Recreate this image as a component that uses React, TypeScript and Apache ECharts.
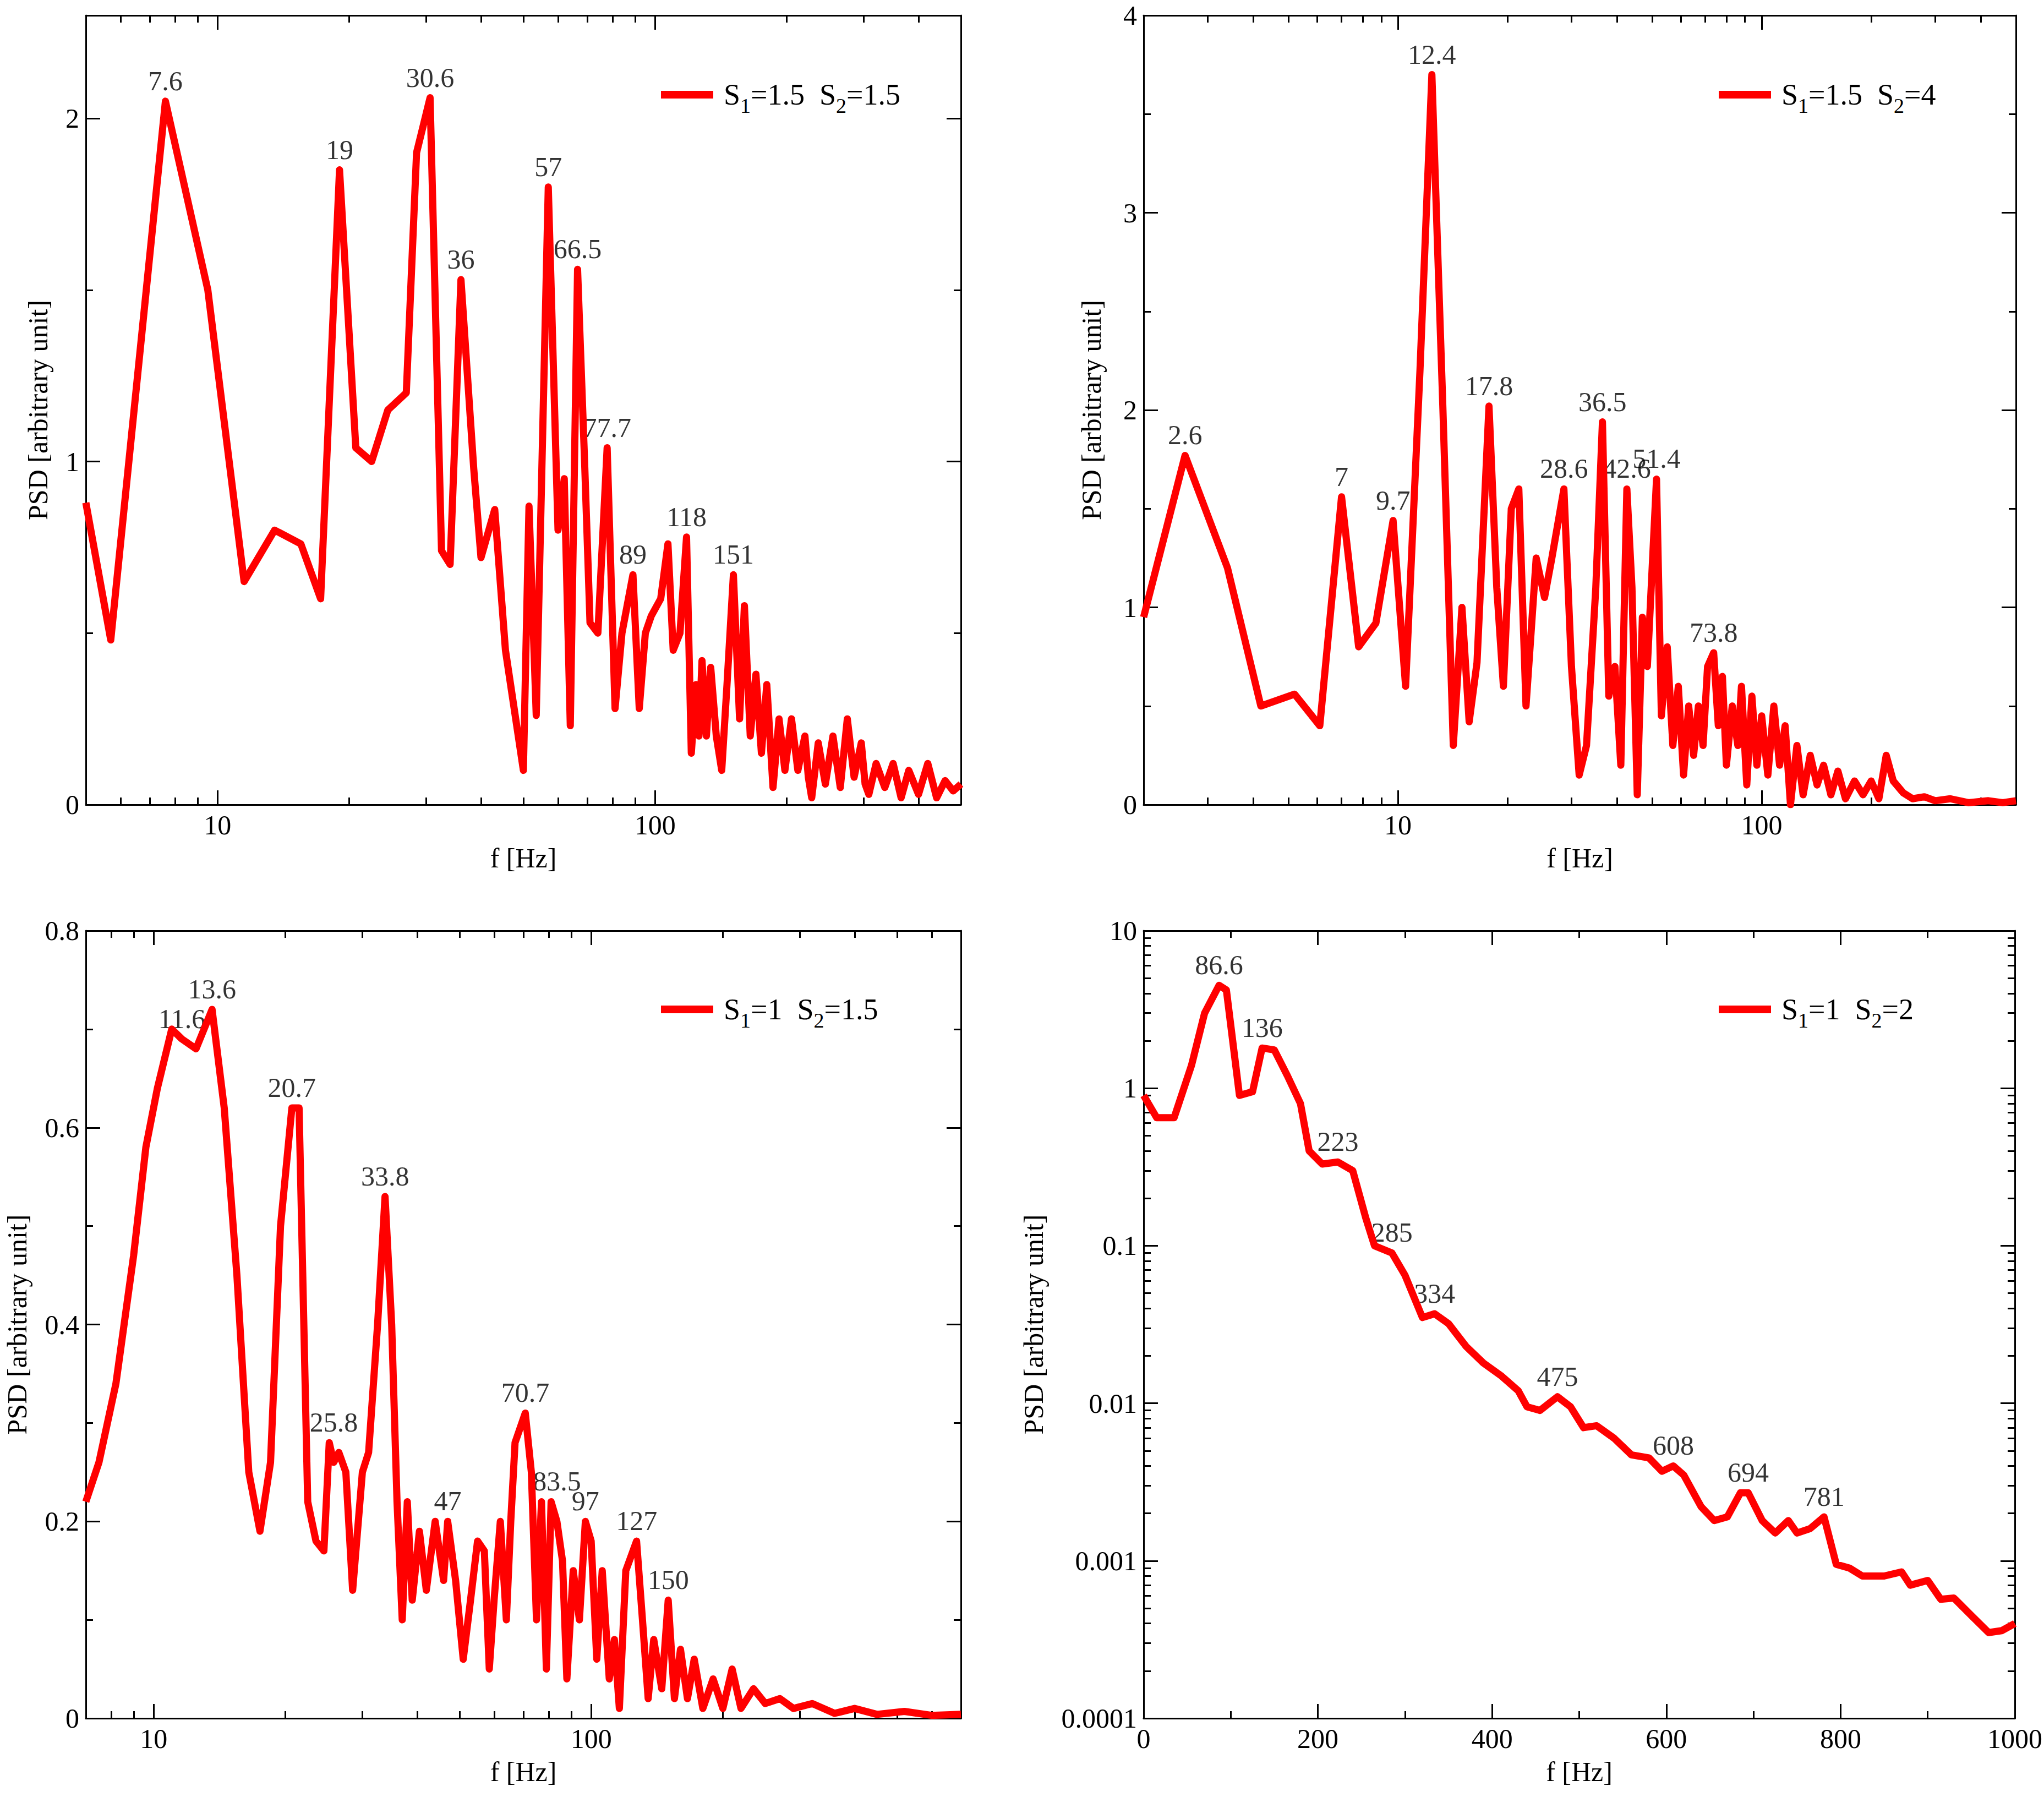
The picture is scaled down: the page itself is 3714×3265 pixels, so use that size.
import { useEffect, useRef } from 'react'
import * as echarts from 'echarts'

// [f (Hz), PSD]
const psd1: number[][] = [
  [5, 0.88], [5.7, 0.48], [7.6, 2.05], [9.5, 1.5], [11.5, 0.65], [13.5, 0.8], [15.5, 0.76], [17.2, 0.6],
  [19, 1.85], [20.7, 1.04], [22.5, 1.0], [24.5, 1.15], [27, 1.2], [28.5, 1.9], [30.6, 2.06], [32.5, 0.74],
  [34, 0.7], [36, 1.53], [38.5, 0.98], [40, 0.72], [43, 0.86], [45.5, 0.45], [50, 0.1], [51.5, 0.87],
  [53.5, 0.26], [57, 1.8], [60, 0.8], [62, 0.95], [64, 0.23], [66.5, 1.56], [69, 1.0], [71, 0.53],
  [74, 0.5], [77.7, 1.04], [81, 0.28], [84, 0.5], [89, 0.67], [92, 0.28], [95, 0.5], [98, 0.55],
  [103, 0.6], [107, 0.76], [110, 0.45], [114, 0.5], [118, 0.78], [121, 0.15], [124, 0.35], [126, 0.2],
  [128, 0.42], [131, 0.2], [134, 0.4], [138, 0.2], [142, 0.1], [146, 0.35], [151, 0.67], [156, 0.25], [160, 0.58],
  [165, 0.2], [170, 0.38], [175, 0.15], [180, 0.35], [186, 0.05], [192, 0.25], [198, 0.1], [205, 0.25],
  [212, 0.1], [220, 0.2], [224, 0.08], [228, 0.02], [236, 0.18], [245, 0.06], [255, 0.2], [265, 0.05], [275, 0.25],
  [285, 0.08], [296, 0.18], [302, 0.06], [308, 0.03], [320, 0.12], [335, 0.05], [350, 0.12], [365, 0.02], [380, 0.1],
  [400, 0.03], [420, 0.12], [440, 0.02], [460, 0.07], [480, 0.04], [500, 0.06],
]
const peaks1: (number | string)[][] = [
  [7.6, 2.05, '7.6'], [19, 1.85, '19'], [30.6, 2.06, '30.6'], [36, 1.53, '36'], [57, 1.8, '57'],
  [66.5, 1.56, '66.5'], [77.7, 1.04, '77.7'], [89, 0.67, '89'], [118, 0.78, '118'], [151, 0.67, '151'],
]

const psd2: number[][] = [
  [2, 0.95], [2.6, 1.77], [3.4, 1.2], [4.2, 0.5], [5.2, 0.56], [6.1, 0.4], [7, 1.56], [7.8, 0.8],
  [8.7, 0.92], [9.7, 1.44], [10.5, 0.6], [11.5, 2.2], [12.4, 3.7], [13.3, 2.0], [14.2, 0.3], [15, 1.0],
  [15.7, 0.42], [16.5, 0.72], [17.8, 2.02], [18.7, 1.1], [19.5, 0.6], [20.5, 1.5], [21.5, 1.6], [22.5, 0.5],
  [24, 1.25], [25.3, 1.05], [26.5, 1.25], [28.6, 1.6], [30, 0.7], [31.5, 0.15], [33, 0.3], [35, 1.1],
  [36.5, 1.94], [38, 0.55], [39.5, 0.7], [41, 0.2], [42.6, 1.6], [44, 1.1], [45.5, 0.05], [47, 0.95],
  [48.5, 0.7], [51.4, 1.65], [53, 0.45], [55, 0.8], [57, 0.3], [59, 0.6], [61, 0.15], [63, 0.5],
  [65, 0.25], [67, 0.5], [69, 0.3], [71, 0.7], [73.8, 0.77], [76, 0.4], [78, 0.65], [80, 0.2],
  [83, 0.5], [86, 0.3], [88, 0.6], [91, 0.1], [94, 0.55], [97, 0.2], [100, 0.45], [104, 0.15],
  [108, 0.5], [112, 0.2], [116, 0.4], [120, 0.0], [125, 0.3], [130, 0.05], [136, 0.25], [142, 0.1],
  [148, 0.2], [155, 0.05], [162, 0.17], [170, 0.03], [180, 0.12], [190, 0.05], [200, 0.12], [210, 0.03],
  [220, 0.25], [230, 0.12], [245, 0.06], [260, 0.03], [280, 0.04], [300, 0.02], [330, 0.03], [370, 0.01],
  [420, 0.02], [460, 0.01], [500, 0.02],
]
const peaks2: (number | string)[][] = [
  [2.6, 1.77, '2.6'], [7, 1.56, '7'], [9.7, 1.44, '9.7'], [12.4, 3.7, '12.4'], [17.8, 2.02, '17.8'],
  [28.6, 1.6, '28.6'], [36.5, 1.94, '36.5'], [42.6, 1.6, '42.6'], [51.4, 1.65, '51.4'], [73.8, 0.77, '73.8'],
]

const psd3: number[][] = [
  [7, 0.22], [7.5, 0.26], [8.2, 0.34], [9, 0.47], [9.6, 0.58], [10.2, 0.64], [11, 0.7], [11.6, 0.69],
  [12.5, 0.68], [13.6, 0.72], [14.5, 0.62], [15.5, 0.45], [16.5, 0.25], [17.5, 0.19], [18.5, 0.26], [19.5, 0.5],
  [20.7, 0.62], [21.5, 0.62], [22.5, 0.22], [23.5, 0.18], [24.5, 0.17], [25.2, 0.28], [25.8, 0.26], [26.5, 0.27],
  [27.5, 0.25], [28.5, 0.13], [30, 0.25], [31, 0.27], [32.5, 0.4], [33.8, 0.53], [35, 0.4], [36, 0.22],
  [37, 0.1], [38, 0.22], [39, 0.12], [40.5, 0.19], [42, 0.13], [44, 0.2], [46, 0.14], [47, 0.2],
  [49, 0.14], [51, 0.06], [53, 0.12], [55, 0.18], [57, 0.17], [58.5, 0.05], [60, 0.12], [62, 0.2],
  [64, 0.1], [65.5, 0.2], [67, 0.28], [70.7, 0.31], [73, 0.25], [75, 0.1], [77, 0.22], [79, 0.05],
  [81, 0.22], [83.5, 0.2], [86, 0.16], [88, 0.04], [91, 0.15], [94, 0.1], [97, 0.2], [100, 0.18],
  [103, 0.06], [106, 0.15], [110, 0.04], [113, 0.08], [116, 0.01], [120, 0.15], [127, 0.18], [131, 0.1],
  [135, 0.02], [139, 0.08], [145, 0.03], [150, 0.12], [155, 0.02], [160, 0.07], [166, 0.02], [172, 0.06],
  [180, 0.01], [190, 0.04], [200, 0.01], [210, 0.05], [220, 0.01], [235, 0.03], [250, 0.015], [270, 0.02],
  [290, 0.01], [320, 0.015], [360, 0.005], [400, 0.01], [450, 0.004], [520, 0.007], [600, 0.003], [700, 0.004],
]
const peaks3: (number | string)[][] = [
  [11.6, 0.69, '11.6'], [13.6, 0.72, '13.6'], [20.7, 0.62, '20.7'], [25.8, 0.28, '25.8'], [33.8, 0.53, '33.8'],
  [47, 0.2, '47'], [70.7, 0.31, '70.7'], [83.5, 0.22, '83.5'], [97, 0.2, '97'], [127, 0.18, '127'], [150, 0.12, '150'],
]

const psd4: number[][] = [
  [0, 0.9], [15, 0.65], [35, 0.65], [55, 1.4], [70, 3], [86.6, 4.5], [95, 4.2], [110, 0.9],
  [125, 0.95], [136, 1.8], [150, 1.75], [165, 1.2], [180, 0.8], [190, 0.4], [205, 0.33], [223, 0.34],
  [240, 0.3], [255, 0.15], [265, 0.1], [285, 0.09], [300, 0.065], [320, 0.035], [334, 0.037], [350, 0.032],
  [370, 0.023], [390, 0.018], [410, 0.015], [430, 0.012], [440, 0.0095], [455, 0.009], [475, 0.011], [490, 0.0095],
  [505, 0.007], [520, 0.0072], [540, 0.006], [560, 0.0047], [580, 0.0045], [595, 0.0037], [608, 0.004], [620, 0.0035],
  [640, 0.0022], [655, 0.0018], [670, 0.0019], [685, 0.0027], [694, 0.0027], [710, 0.0018], [725, 0.0015], [740, 0.0018],
  [750, 0.0015], [765, 0.0016], [781, 0.0019], [795, 0.00095], [810, 0.0009], [825, 0.0008], [850, 0.0008], [870, 0.00085],
  [880, 0.0007], [900, 0.00075], [915, 0.00057], [930, 0.00058], [950, 0.00045], [970, 0.00035], [985, 0.00036], [1000, 0.0004],
]
const peaks4: (number | string)[][] = [
  [86.6, 4.5, '86.6'], [136, 1.8, '136'], [223, 0.34, '223'], [285, 0.09, '285'], [334, 0.037, '334'],
  [475, 0.011, '475'], [608, 0.004, '608'], [694, 0.0027, '694'], [781, 0.0019, '781'],
]

const legends = ['S{s|1}=1.5  S{s|2}=1.5', 'S{s|1}=1.5  S{s|2}=4', 'S{s|1}=1  S{s|2}=1.5', 'S{s|1}=1  S{s|2}=2']

const FONT = "'Liberation Serif', 'Times New Roman', serif"
const FS = 50
const L10 = Math.log10

const logMinors = (lo: number, hi: number) => {
  const out: number[] = []
  for (let e = -5; e < 4; e++) for (let k = 2; k <= 9; k++) {
    const v = k * 10 ** e
    if (v > lo && v < hi) out.push(L10(v))
  }
  return out
}

interface Panel {
  left: number; top: number; width: number; height: number
  xLog: boolean; xMin: number; xMax: number; xMajor: number[]; xMinor: number[]
  yLog: boolean; yMin: number; yMax: number; yMajor: number[]; yMinor: number[]
  yLabel: (v: number) => string; yGap: number
  data: number[][]; peaks: (number | string)[][]; legend: number[]
}

const panels: Panel[] = [
  { left: 156, top: 28, width: 1590, height: 1434, xLog: true, xMin: L10(5), xMax: L10(500),
    xMajor: [1, 2], xMinor: logMinors(5, 500), yLog: false, yMin: 0, yMax: 2.3, yMajor: [0, 1, 2],
    yMinor: [0.5, 1.5], yLabel: v => String(v), yGap: 62, data: psd1, peaks: peaks1, legend: [1196, 140] },
  { left: 2078, top: 28, width: 1585, height: 1434, xLog: true, xMin: L10(2), xMax: L10(500),
    xMajor: [1, 2], xMinor: logMinors(2, 500), yLog: false, yMin: 0, yMax: 4, yMajor: [0, 1, 2, 3, 4],
    yMinor: [0.5, 1.5, 2.5, 3.5], yLabel: v => String(v), yGap: 70, data: psd2, peaks: peaks2, legend: [3118, 140] },
  { left: 156, top: 1691, width: 1590, height: 1431, xLog: true, xMin: L10(7), xMax: L10(700),
    xMajor: [1, 2], xMinor: logMinors(7, 700), yLog: false, yMin: 0, yMax: 0.8, yMajor: [0, 0.2, 0.4, 0.6, 0.8],
    yMinor: [0.1, 0.3, 0.5, 0.7], yLabel: v => (v === 0 ? '0' : v.toFixed(1)), yGap: 100, data: psd3, peaks: peaks3, legend: [1196, 1802] },
  { left: 2078, top: 1691, width: 1585, height: 1431, xLog: false, xMin: 0, xMax: 1000,
    xMajor: [0, 200, 400, 600, 800, 1000], xMinor: [100, 300, 500, 700, 900], yLog: true, yMin: -4, yMax: 1,
    yMajor: [-4, -3, -2, -1, 0, 1], yMinor: logMinors(0.0001, 10),
    yLabel: v => { const n = 10 ** v; return n >= 1 ? String(Math.round(n)) : n.toFixed(-Math.round(v)) },
    yGap: 175, data: psd4, peaks: peaks4, legend: [3118, 1802] },
]

export default function App() {
  const ref = useRef<HTMLDivElement>(null)

  useEffect(() => {
    if (!ref.current) return
    document.body.style.margin = '0'
    const chart = echarts.init(ref.current, null, { renderer: 'svg' })

    const grid: any[] = [], xAxis: any[] = [], yAxis: any[] = [], series: any[] = [], legend: any[] = []
    const line = { lineStyle: { color: '#000', width: 3 } }

    panels.forEach((p, i) => {
      grid.push({ left: p.left, top: p.top, width: p.width, height: p.height })
      const tx = (v: number) => (p.xLog ? L10(v) : v)
      const ty = (v: number) => (p.yLog ? L10(v) : v)
      const xBase = { type: 'value', gridIndex: i, min: p.xMin, max: p.xMax, splitLine: { show: false } }
      const yBase = { type: 'value', gridIndex: i, min: p.yMin, max: p.yMax, splitLine: { show: false } }
      const xi = xAxis.length, yi = yAxis.length
      for (const pos of ['bottom', 'top']) {
        xAxis.push({
          ...xBase, position: pos, axisLine: { show: true, onZero: false, ...line },
          name: pos === 'bottom' ? 'f [Hz]' : '', nameLocation: 'middle', nameGap: 72,
          nameTextStyle: { fontFamily: FONT, fontSize: FS, color: '#000' },
          axisLabel: { show: pos === 'bottom', customValues: p.xMajor, fontFamily: FONT, fontSize: FS, color: '#000', margin: 12,
            formatter: (v: number) => (p.xLog ? String(Math.round(10 ** v)) : String(v)) },
          axisTick: { inside: true, length: 26, customValues: p.xMajor, ...line },
        })
        xAxis.push({
          ...xBase, position: pos, axisLine: { show: false, onZero: false }, axisLabel: { show: false },
          axisTick: { inside: true, length: 13, customValues: p.xMinor, ...line },
        })
      }
      for (const pos of ['left', 'right']) {
        yAxis.push({
          ...yBase, position: pos, axisLine: { show: true, onZero: false, ...line },
          name: pos === 'left' ? 'PSD [arbitrary unit]' : '', nameLocation: 'middle', nameGap: p.yGap,
          nameTextStyle: { fontFamily: FONT, fontSize: FS, color: '#000' },
          axisLabel: { show: pos === 'left', customValues: p.yMajor, fontFamily: FONT, fontSize: FS, color: '#000', margin: 12,
            formatter: p.yLabel },
          axisTick: { inside: true, length: 26, customValues: p.yMajor, ...line },
        })
        yAxis.push({
          ...yBase, position: pos, axisLine: { show: false, onZero: false }, axisLabel: { show: false },
          axisTick: { inside: true, length: 13, customValues: p.yMinor, ...line },
        })
      }
      const name = 'psd' + i
      series.push({
        name, type: 'line', xAxisIndex: xi, yAxisIndex: yi, showSymbol: false, symbol: 'none',
        data: p.data.map(d => [tx(d[0]), ty(d[1])]),
        lineStyle: { color: '#ff0000', width: 13, join: 'round' }, itemStyle: { color: '#ff0000' },
      })
      series.push({
        type: 'scatter', xAxisIndex: xi, yAxisIndex: yi, symbolSize: 0, silent: true,
        data: p.peaks.map(d => [tx(d[0] as number), ty(d[1] as number), d[2]]),
        label: { show: true, position: 'top', distance: 12, formatter: (q: any) => q.data[2],
          fontFamily: FONT, fontSize: FS, color: '#000' },
      })
      legend.push({
        data: [name], left: p.legend[0], top: p.legend[1], icon: 'rect', itemWidth: 95, itemHeight: 14, itemGap: 0,
        formatter: () => legends[i],
        textStyle: { fontFamily: FONT, fontSize: 54, color: '#000', padding: [0, 0, 0, 14],
          rich: { s: { fontFamily: FONT, fontSize: 38, color: '#000', padding: [40, 0, 0, 0] } } },
      })
    })

    chart.setOption({ animation: false, backgroundColor: '#fff', grid, xAxis, yAxis, series, legend })
    return () => chart.dispose()
  }, [])

  return <div ref={ref} style={{ width: 3714, height: 3265 }} />
}
